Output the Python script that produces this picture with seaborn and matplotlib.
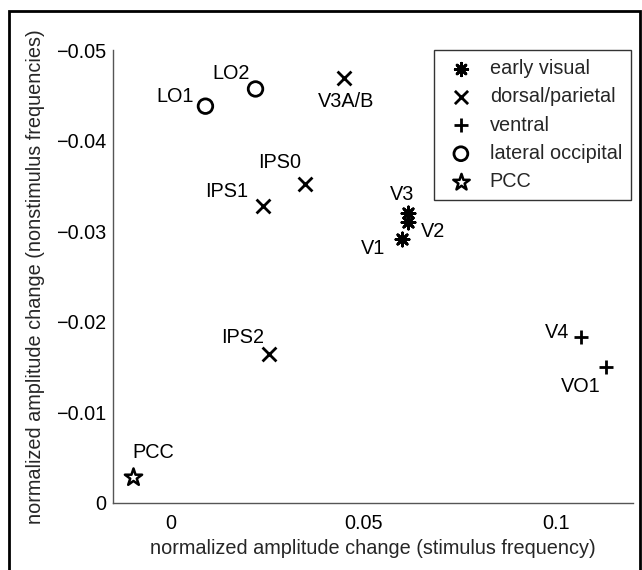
import matplotlib
matplotlib.use("Agg")
import matplotlib.pyplot as plt
import seaborn as sns
import pandas as pd
from matplotlib.patches import Rectangle

# ---- data ----
regions = ["V1", "V2", "V3", "V3A/B", "IPS0", "IPS1", "IPS2", "V4", "VO1", "LO1", "LO2", "PCC"]
groups = ["early visual", "early visual", "early visual",
          "dorsal/parietal", "dorsal/parietal", "dorsal/parietal", "dorsal/parietal",
          "ventral", "ventral", "lateral occipital", "lateral occipital", "PCC"]
stim_change = [0.0599, 0.0617, 0.0615, 0.0450, 0.0348, 0.0240, 0.0255, 0.1065, 0.1130, 0.0090, 0.0220, -0.0098]
nonstim_change = [-0.0291, -0.0310, -0.0320, -0.0469, -0.0352, -0.0328, -0.0164, -0.0183, -0.0150, -0.0438, -0.0457, -0.0029]
group_order = ["early visual", "dorsal/parietal", "ventral", "lateral occipital", "PCC"]
x_ticks = [0, 0.05, 0.1]
x_ticklabels = ["0", "0.05", "0.1"]
y_ticks = [0, -0.01, -0.02, -0.03, -0.04, -0.05]
y_ticklabels = ["0", "\u22120.01", "\u22120.02", "\u22120.03", "\u22120.04", "\u22120.05"]

df = pd.DataFrame({"region": regions, "group": groups, "x": stim_change, "y": nonstim_change})

sns.set_theme(style="white")
plt.rcParams["font.family"] = ["Liberation Sans", "DejaVu Sans"]
FS = 14.3

fig = plt.figure(figsize=(6.42, 5.70), dpi=100)
ax = fig.add_axes([113 / 642, 1 - 503 / 570, 520 / 642, 453 / 570])

styles = {
    "early visual": dict(marker=(8, 2, 0), s=90, color="black", linewidth=2.0),
    "dorsal/parietal": dict(marker="x", s=100, color="black", linewidth=2.0),
    "ventral": dict(marker="+", s=110, color="black", linewidth=2.0),
    "lateral occipital": dict(marker="o", s=110, facecolor="none", edgecolor="black", linewidth=2.0),
    "PCC": dict(marker="*", s=170, facecolor="white", edgecolor="black", linewidth=1.8),
}

for g in group_order:
    sub = df[df["group"] == g]
    sns.scatterplot(data=sub, x="x", y="y", ax=ax, label=g, zorder=3, **styles[g])

# text label offsets in pixels (dx, dy, ha, va)
offsets = {
    "LO1": (-12, 0, "right", "bottom"),
    "LO2": (-6, 6, "right", "bottom"),
    "V3A/B": (2, -14, "center", "top"),
    "IPS0": (-4, 12, "right", "bottom"),
    "IPS1": (-15, 5, "right", "bottom"),
    "IPS2": (-5, 7, "right", "bottom"),
    "V3": (-6, 9, "center", "bottom"),
    "V2": (12, -9, "left", "center"),
    "V1": (-16, -9, "right", "center"),
    "V4": (-12, 5, "right", "center"),
    "VO1": (-5, -10, "right", "top"),
    "PCC": (-1, 15, "left", "bottom"),
}
for r, xv, yv in zip(regions, stim_change, nonstim_change):
    dx, dy, ha, va = offsets[r]
    ax.annotate(r, (xv, yv), xytext=(dx, dy), textcoords="offset pixels",
                ha=ha, va=va, fontsize=FS, color="black")

ax.set_xlim(-0.015, 0.12)
ax.set_ylim(0, -0.05)
ax.set_xticks(x_ticks)
ax.set_xticklabels(x_ticklabels)
ax.set_yticks(y_ticks)
ax.set_yticklabels(y_ticklabels)
ax.tick_params(direction="in", length=4, width=1, colors="#555555", labelcolor="black",
               labelsize=FS)
ax.tick_params(axis="x", pad=8)
ax.tick_params(axis="y", pad=5)
for side in ["top", "right"]:
    ax.spines[side].set_visible(False)
for side in ["left", "bottom"]:
    ax.spines[side].set_color("#555555")
    ax.spines[side].set_linewidth(1.0)

ax.set_xlabel("normalized amplitude change (stimulus frequency)", fontsize=FS, labelpad=4)
ax.set_ylabel("normalized amplitude change (nonstimulus frequencies)", fontsize=FS, labelpad=8)

leg = ax.legend(loc="upper right", bbox_to_anchor=(1 - 2 / 520, 1.0), frameon=True, fancybox=False,
                fontsize=FS, handletextpad=0.55, labelspacing=0.47, borderpad=0.45,
                handlelength=1.8, markerscale=0.95, borderaxespad=0.0)
leg.get_frame().set_edgecolor("black")
leg.get_frame().set_linewidth(1.0)

fig.patches.append(Rectangle((9 / 642, -0.1), 631 / 642, 1.1 - 11 / 570, transform=fig.transFigure,
                             fill=False, edgecolor="black", linewidth=2.0))

fig.savefig("out.png", dpi=100)
